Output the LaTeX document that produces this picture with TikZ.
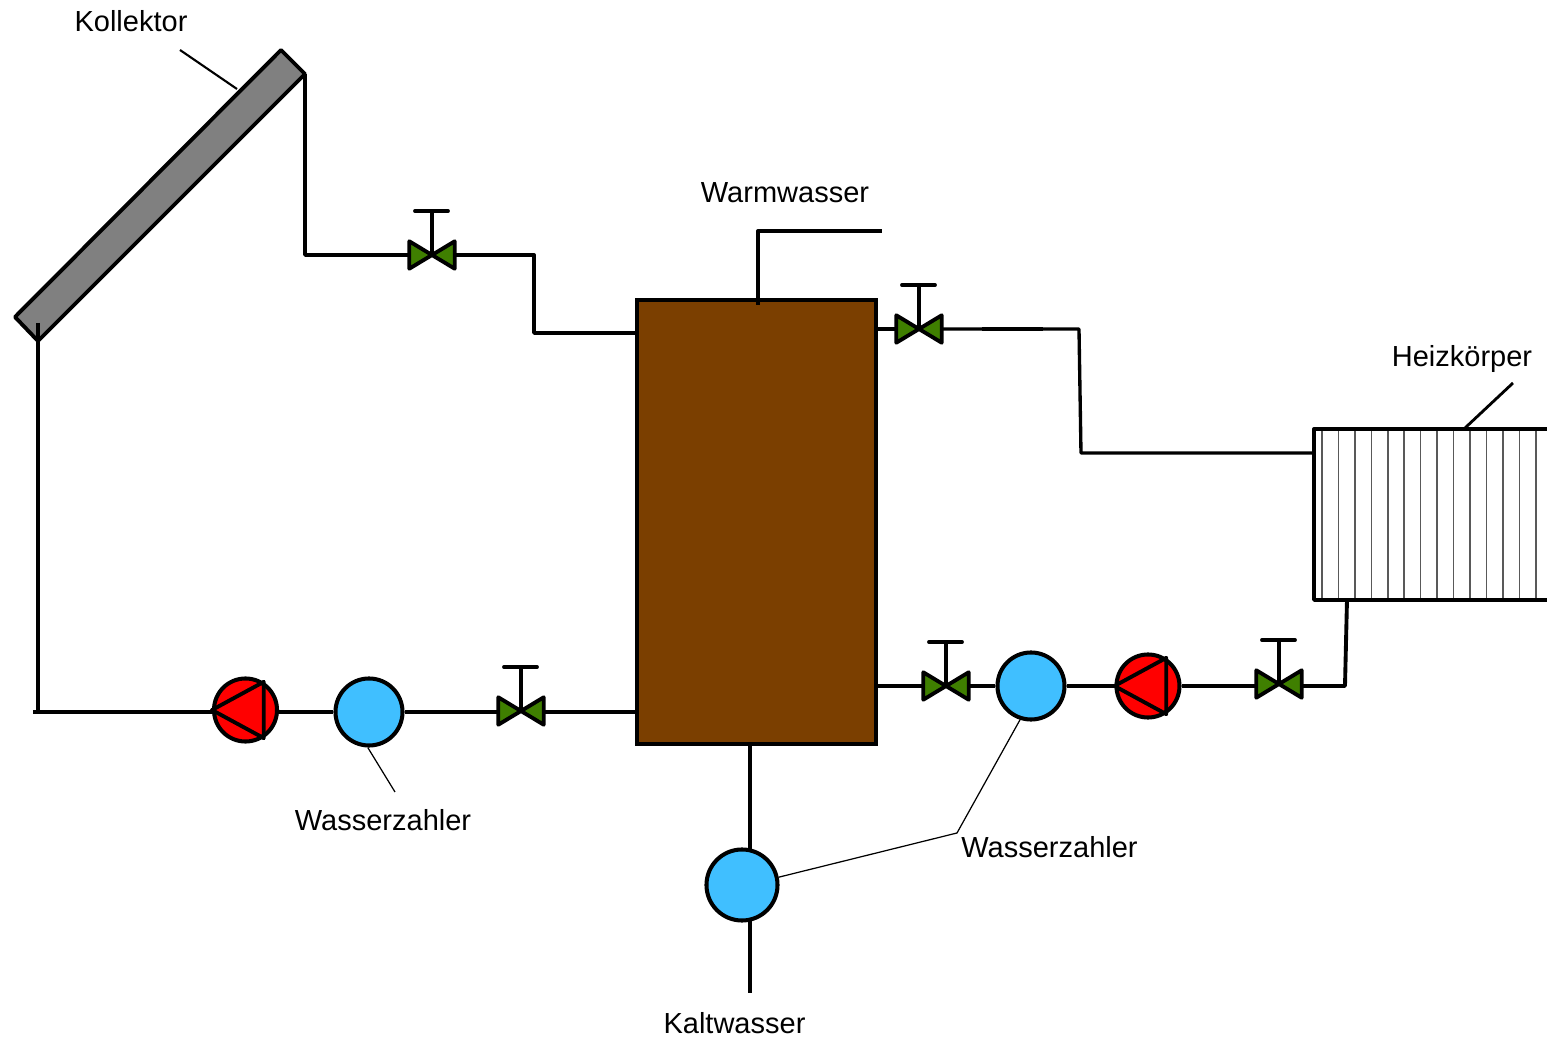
\documentclass[tikz,border=0pt]{standalone}
\usepackage{fontspec}
\setmainfont{Liberation Sans}
\usetikzlibrary{calc}
\definecolor{tankbrown}{HTML}{7B3F00}
\definecolor{meterblue}{HTML}{40BFFF}
\definecolor{valvegreen}{HTML}{3F7F00}
\definecolor{panelgray}{HTML}{808080}
\tikzset{
  pipe/.style={draw=black,line width=1.1pt,line join=round},
  pipethin/.style={draw=black,line width=0.95pt,line join=round},
  leader/.style={draw=black,line width=0.35pt},
  meter/.style={circle,draw=black,line width=1.15pt,fill=meterblue,inner sep=0pt,minimum size=0.67cm},
  pumpnode/.style={circle,draw=black,line width=1.15pt,fill=red,inner sep=0pt,minimum size=0.63cm},
  valvenode/.style={rectangle,inner sep=0pt,minimum width=0.44cm,minimum height=0.26cm},
  lbl/.style={font=\fontsize{8.25pt}{10pt}\selectfont,inner sep=0pt,anchor=base}
}
\begin{document}
\begin{tikzpicture}[x=0.01cm,y=-0.01cm]
\useasboundingbox (0,0) rectangle (1547,1040);
% collector
\coordinate (colTop) at (281,50);
\coordinate (colOut) at (305,74);
\coordinate (colIn) at (38,341);
\coordinate (colLow) at (15,317);
\draw[pipe,fill=panelgray] (colTop)--(colOut)--(colIn)--(colLow)--cycle;
% storage tank
\node[draw=black,line width=1.1pt,fill=tankbrown,inner sep=0pt,minimum width=2.39cm,minimum height=4.44cm] (tank) at (756.5,522) {};
% heater, open at the picture edge
\coordinate (hzA) at (1314,429);
\coordinate (hzB) at (1314,600);
\foreach \i in {0,...,13}
  \draw[draw=black!65,line width=0.45pt] (1322+16.45*\i,429)--(1322+16.45*\i,600);
\draw[pipe] (1547,429)--(hzA)--(hzB)--(1547,600);
% meters and pumps
\node[meter] (mA) at (369,712) {};
\node[meter] (mB) at (1031,686) {};
\node[meter,minimum size=0.71cm] (mC) at (742,885) {};
\node[pumpnode] (pA) at (245.5,710) {};
\node[pumpnode] (pB) at (1148,686) {};
\foreach \n in {pA,pB}
  \draw[pipe] (\n.180)--(\n.57)--(\n.-57)--cycle;
% valves
\node[valvenode] (vA) at (432,255) {};
\node[valvenode] (vB) at (919,329) {};
\node[valvenode] (vC) at (946,686) {};
\node[valvenode] (vD) at (1279,684) {};
\node[valvenode] (vE) at (521,711) {};
\foreach \n in {vA,vB,vC,vD,vE}{
  \draw[pipe,fill=valvegreen] (\n.north west)--(\n.center)--(\n.south west)--cycle;
  \draw[pipe,fill=valvegreen] (\n.north east)--(\n.center)--(\n.south east)--cycle;
  \draw[pipe,line cap=round] (\n.center)--++(0,-44) ++(-17,0)--++(33,0);
}
% pipes
\draw[pipe] (colOut)--(305,255)--(vA.west);
\draw[pipe] (vA.east)--(534,255)--(534,333)--(tank.west|-0,333);
\draw[pipe] (758,305)--(758,231)--(882,231);
\draw[pipethin] (tank.east|-0,329)--(vB.west);
\draw[pipethin] (vB.east)--(1079,329)--(1081,453)--(hzA|-0,453);
\draw[pipe] (982,329)--(1043,329);
\draw[pipethin] (tank.east|-0,686)--(vC.west);
\draw[pipethin] (vC.east)--(mB.west);
\draw[pipethin] (mB.east)--(pB.west);
\draw[pipethin] (pB.east)--(vD.west|-0,686);
\draw[pipe] (vD.east|-0,686)--(1345,686)--(1347,600);
\draw[pipe] (38,323)--(38,712);
\draw[pipe] (33,712)--(pA.west|-0,712);
\draw[pipe] (pA.east|-0,712)--(mA.west);
\draw[pipe] (mA.east)--(vE.west|-0,712);
\draw[pipe] (vE.east|-0,712)--(tank.west|-0,712);
\draw[pipe] (750,744)--(750,850);
\draw[pipe] (750,920)--(750,993);
% labels
\node[lbl] (tKoll) at (131,32) {Kollektor};
\node[lbl] (tWarm) at (785,203) {Warmwasser};
\node[lbl] (tHeiz) at (1462,367) {Heizkörper};
\node[lbl] (tZahlA) at (383,831) {Wasserzahler};
\node[lbl] (tZahlB) at (1049.5,858) {Wasserzahler};
\node[lbl] (tKalt) at (734.5,1034) {Kaltwasser};
% leader lines
\coordinate (kollEnd) at (237,89);
\coordinate (kollStart) at (180,50);
\draw[leader,line width=0.6pt] (kollStart)--(kollEnd);
\draw[pipe,line width=0.8pt] (1513,383)--(1465,428);
\coordinate (zahlA) at (395,792);
\draw[leader] (mA.-92)--(zahlA);
\coordinate (zahlB) at (957,833);
\draw[leader] (mB.-108)--(zahlB)--(mC.12);
\end{tikzpicture}
\end{document}
